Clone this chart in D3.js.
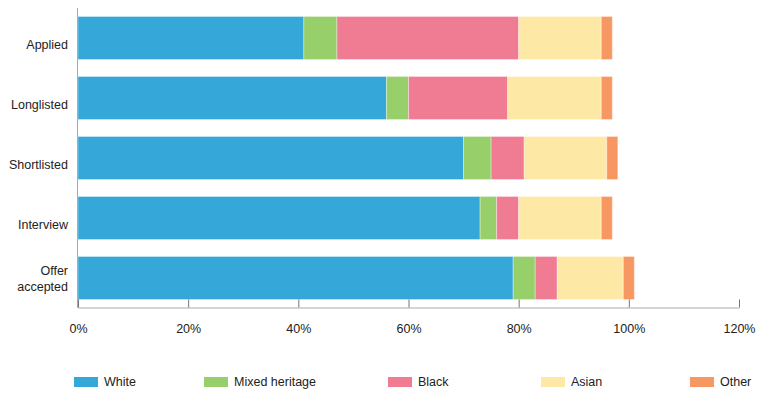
<!DOCTYPE html>
<html>
<head>
<meta charset="utf-8">
<script src="https://cdn.jsdelivr.net/npm/d3@7"></script>
<style>
  body { margin: 0; background: #fff; }
  svg text { font-family: "Liberation Sans", Arial, sans-serif; font-size: 12.5px; fill: #222; }
</style>
</head>
<body>
<svg id="chart"></svg>
<script>
// categories (top to bottom)
const stages = ["Applied", "Longlisted", "Shortlisted", "Interview", "Offer accepted"];
const groups = ["White", "Mixed heritage", "Black", "Asian", "Other"];

// percentages per stage
const white = [41, 56, 70, 73, 79];
const mixed = [6, 4, 5, 3, 4];
const black = [33, 18, 6, 4, 4];
const asian = [15, 17, 15, 15, 12];
const other = [2, 2, 2, 2, 2];

const xTicks = [0, 20, 40, 60, 80, 100, 120];
const colors = ["#36a7d9", "#97cf6a", "#ef7c93", "#fee8a6", "#f79762"];

const wsvg = 768, hsvg = 399;
const plotLeft = 78, plotRight = 739, plotTop = 8, plotBottom = 308;

const svg = d3.select("#chart").attr("width", wsvg).attr("height", hsvg);

const rows = stages.map((s, i) => ({
    stage: s,
    "White": white[i],
    "Mixed heritage": mixed[i],
    "Black": black[i],
    "Asian": asian[i],
    "Other": other[i]
}));

const stacked = d3.stack().keys(groups)(rows);

const xScale = d3.scaleLinear([0, 120], [plotLeft, plotRight]);
const yScale = d3.scaleBand(stages, [plotTop, plotBottom]).paddingInner(0.283).paddingOuter(0.1415);
const color = d3.scaleOrdinal(groups, colors);

// bars
svg.append("g").selectAll("g")
    .data(stacked)
    .join("g")
    .attr("fill", d => color(d.key))
    .selectAll("rect")
    .data(d => d)
    .join("rect")
    .attr("x", d => xScale(d[0]))
    .attr("y", d => yScale(d.data.stage))
    .attr("width", d => xScale(d[1]) - xScale(d[0]))
    .attr("height", yScale.bandwidth())
    .attr("stroke", "#fff")
    .attr("stroke-opacity", 0.35)
    .attr("stroke-width", 1);

// x axis, ticks pointing up
const xAxisG = svg.append("g")
    .attr("transform", `translate(0, ${plotBottom - 0.5})`)
    .call(d3.axisBottom(xScale).tickValues(xTicks).tickSize(-8).tickSizeOuter(0).tickFormat(d => d + "%"));
xAxisG.select(".domain").attr("stroke", "#aaa");
xAxisG.selectAll(".tick line").attr("stroke", "#777");
xAxisG.selectAll(".tick text").attr("y", 17).attr("font-size", 12.5).attr("fill", "#222");

// y axis line
svg.append("line")
    .attr("x1", plotLeft - 0.5).attr("x2", plotLeft - 0.5)
    .attr("y1", plotTop).attr("y2", plotBottom)
    .attr("stroke", "#aaa");

// stage labels
const labels = svg.append("g").selectAll("text")
    .data(stages)
    .join("text")
    .attr("text-anchor", "end")
    .attr("x", plotLeft - 10)
    .attr("y", d => yScale(d) + yScale.bandwidth() / 2);

labels.each(function(d) {
    const words = d === "Offer accepted" ? ["Offer", "accepted"] : [d];
    const t = d3.select(this);
    words.forEach((w, i) => {
        t.append("tspan")
            .attr("x", plotLeft - 10)
            .attr("dy", i === 0 ? (words.length > 1 ? "-0.25em" : "0.85em") : "1.3em")
            .text(w);
    });
});

// legend
const legendX = [74, 204, 388, 541, 690];
const legend = svg.append("g").selectAll("g")
    .data(groups)
    .join("g")
    .attr("transform", (d, i) => `translate(${legendX[i]}, 377)`);

legend.append("rect")
    .attr("width", 24)
    .attr("height", 10)
    .attr("fill", d => color(d));

legend.append("text")
    .attr("x", 30)
    .attr("y", 5)
    .attr("dy", "0.35em")
    .text(d => d);
</script>
</body>
</html>
